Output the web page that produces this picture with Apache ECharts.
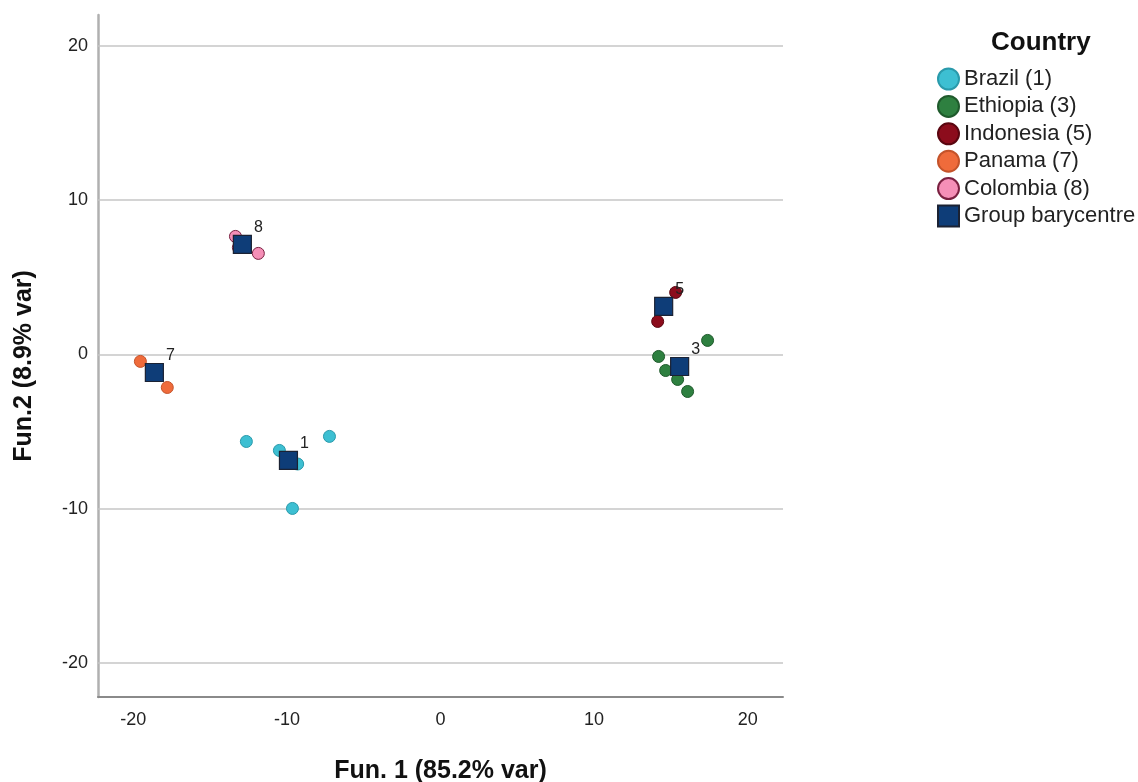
<!DOCTYPE html>
<html>
<head>
<meta charset="utf-8">
<script src="https://cdn.jsdelivr.net/npm/echarts@6/dist/echarts.min.js"></script>
<style>
html,body{margin:0;padding:0;background:#fff;}
#chart{width:1138px;height:782px;}
</style>
</head>
<body>
<div id="chart"></div>
<script>
// ---- data ----
const xTicks = [-20, -10, 0, 10, 20];
const yTicks = [-20, -10, 0, 10, 20];

const brazil = [[-12.64, -5.64], [-10.49, -6.22], [-7.23, -5.31], [-9.64, -9.98], [-9.3, -7.1]];
const ethiopia = [[17.39, 0.91], [14.2, -0.13], [14.66, -1.04], [15.44, -1.62], [16.09, -2.4]];
const indonesia = [[15.31, 4.02], [14.14, 2.14]];
const panama = [[-19.54, -0.45], [-17.79, -2.14]];
const colombia = [[-13.35, 7.65], [-13.16, 6.93], [-11.86, 6.55]];

const centroidLabels = ['1', '3', '5', '7', '8'];
const centroidX = [-9.9, 15.57, 14.53, -18.63, -12.9];
const centroidY = [-6.87, -0.78, 3.11, -1.17, 7.13];

const seriesNames = ['Brazil (1)', 'Ethiopia (3)', 'Indonesia (5)', 'Panama (7)', 'Colombia (8)', 'Group barycentre'];

const FONT = 'Liberation Sans, Arial, sans-serif';

const chart = echarts.init(document.getElementById('chart'), null, {renderer: 'canvas'});

function pts(name, data, color, border) {
  return {
    name: name,
    type: 'scatter',
    data: data,
    symbol: 'circle',
    symbolSize: 12,
    itemStyle: {color: color, borderColor: border, borderWidth: 1, opacity: 1},
    emphasis: {disabled: true},
    z: 2
  };
}

const series = [
  pts(seriesNames[0], brazil, '#3dbfd2', '#2a9aab'),
  pts(seriesNames[1], ethiopia, '#2e8040', '#1f5a2c'),
  pts(seriesNames[2], indonesia, '#8c0c1c', '#5a0610'),
  pts(seriesNames[3], panama, '#ef6b3b', '#c4532a'),
  pts(seriesNames[4], colombia, '#f58fb7', '#7a2040'),
  {
    name: seriesNames[5],
    type: 'scatter',
    symbol: 'rect',
    symbolSize: 18,
    data: centroidLabels.map((l, i) => ({value: [centroidX[i], centroidY[i]], name: l})),
    itemStyle: {color: '#0e3d78', borderColor: '#1b2233', borderWidth: 1.2, opacity: 1},
    label: {
      show: true,
      position: 'inside',
      offset: [16, -17],
      formatter: p => p.name,
      color: '#222',
      fontSize: 16,
      fontFamily: FONT
    },
    emphasis: {disabled: true},
    z: 3
  }
];

// gridlines as mark lines
series[0].markLine = {
  silent: true,
  symbol: 'none',
  animation: false,
  label: {show: false},
  lineStyle: {type: 'solid', color: '#c6c6c6', width: 1.5},
  data: yTicks.map(v => ({yAxis: v})),
  z: 1
};

const option = {
  animation: false,
  backgroundColor: '#ffffff',
  textStyle: {fontFamily: FONT},
  title: {
    text: 'Country',
    left: 986,
    top: 25,
    textStyle: {fontSize: 26, fontWeight: 'bold', color: '#111', fontFamily: FONT}
  },
  legend: {
    orient: 'vertical',
    left: 937,
    top: 67.5,
    padding: 0,
    itemWidth: 21,
    itemHeight: 21,
    itemGap: 4.4,
    data: seriesNames.map((n, i) => ({name: n, icon: i === 5 ? 'rect' : 'circle'})),
    textStyle: {fontSize: 22, lineHeight: 21, color: '#222', fontFamily: FONT},
    selectedMode: false
  },
  grid: {left: 98, right: 355, top: 15, bottom: 85, containLabel: false, outerBoundsMode: 'none'},
  xAxis: {
    type: 'value',
    min: -22.3,
    max: 22.3,
    name: 'Fun. 1 (85.2% var)',
    nameLocation: 'middle',
    nameGap: 62,
    nameTextStyle: {fontSize: 25, fontWeight: 'bold', color: '#111', fontFamily: FONT},
    axisLine: {show: true, onZero: false, lineStyle: {color: '#8a8a8a', width: 2}},
    axisTick: {show: false},
    axisLabel: {customValues: xTicks, fontSize: 18, color: '#222', margin: 14, fontFamily: FONT},
    splitLine: {show: false}
  },
  yAxis: {
    type: 'value',
    min: -22.2,
    max: 22.0,
    name: 'Fun.2 (8.9% var)',
    nameLocation: 'middle',
    nameGap: 61,
    nameTextStyle: {fontSize: 25, fontWeight: 'bold', color: '#111', fontFamily: FONT, padding: [0, 20, 0, 0]},
    axisLine: {show: true, onZero: false, lineStyle: {color: '#b0b0b0', width: 2.5}},
    axisTick: {show: false},
    axisLabel: {customValues: yTicks, fontSize: 18, color: '#222', margin: 10, fontFamily: FONT},
    splitLine: {show: false}
  },
  series: series
};

chart.setOption(option);
</script>
</body>
</html>
